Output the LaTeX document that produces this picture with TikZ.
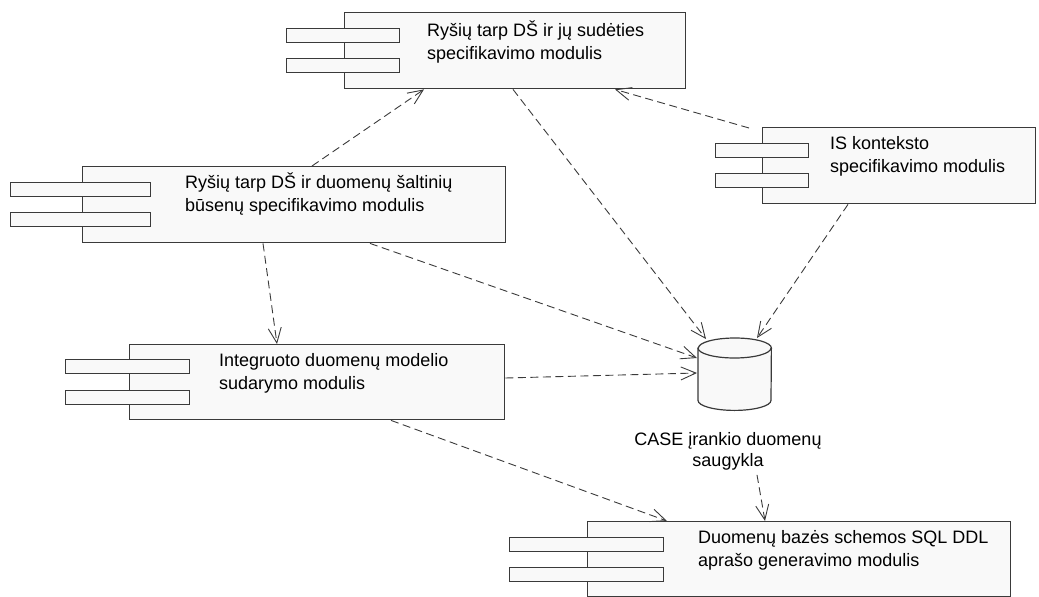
\documentclass[tikz,border=0pt]{standalone}
\usepackage{fontspec}
\setmainfont{Liberation Sans}
\usetikzlibrary{arrows.meta,calc}
\definecolor{edge}{HTML}{3A3A3A}
\definecolor{paper}{HTML}{F9F9F9}
\begin{document}
\begin{tikzpicture}[x=1pt,y=-1pt,
  body/.style={draw=edge, fill=paper, line width=1.4pt, rectangle, inner sep=0pt,
               anchor=north west, minimum height=76pt},
  tab/.style={draw=edge, fill=paper, line width=1.2pt, rectangle, inner sep=0pt,
              anchor=north west, minimum height=14pt},
  txt/.style={anchor=base west, inner sep=0pt, align=left, text=black,
              font=\fontsize{18}{23}\selectfont},
  dep/.style={draw=edge, line width=0.9pt, dash pattern=on 8pt off 4.5pt,
              -{Straight Barb[length=15pt, width=13pt, line width=0.9pt]}}]
\useasboundingbox (0,0) rectangle (1039,597);

% component: links between data structures and their composition
% (text nodes are placed by the baseline of their last line)
\node[body, minimum width=341pt] (c1) at (344,12) {};
\node[tab, minimum width=113pt] (c1a) at (286,28) {};
\node[tab, minimum width=113pt] (c1b) at (286,58) {};
\node[txt] (c1l) at (427,59) {Ryšių tarp DŠ ir jų sudėties\\specifikavimo modulis};

% component: links between data structures and data source states
\node[body, minimum width=423pt] (c2) at (82,166) {};
\node[tab, minimum width=140pt] (c2a) at (10,182) {};
\node[tab, minimum width=140pt] (c2b) at (10,212) {};
\node[txt] (c2l) at (185,211) {Ryšių tarp DŠ ir duomenų šaltinių\\būsenų specifikavimo modulis};

% component: IS context
\node[body, minimum width=273pt] (c3) at (762,127) {};
\node[tab, minimum width=93pt] (c3a) at (715,143) {};
\node[tab, minimum width=93pt] (c3b) at (715,173) {};
\node[txt] (c3l) at (830,172) {IS konteksto\\specifikavimo modulis};

% component: integrated data model
\node[body, minimum width=375pt, minimum height=75pt] (c4) at (129,344) {};
\node[tab, minimum width=124pt] (c4a) at (65,359) {};
\node[tab, minimum width=124pt] (c4b) at (65,390) {};
\node[txt] (c4l) at (219,389) {Integruoto duomenų modelio\\sudarymo modulis};

% component: SQL DDL generation
\node[body, minimum width=423pt, minimum height=75pt] (c5) at (587,521) {};
\node[tab, minimum width=154pt] (c5a) at (509,537) {};
\node[tab, minimum width=154pt] (c5b) at (509,567) {};
\node[txt] (c5l) at (698,566) {Duomenų bazės schemos SQL DDL\\aprašo generavimo modulis};

% CASE tool repository (cylinder)
\node[anchor=north west, inner sep=0pt, minimum width=73pt, minimum height=72pt] (db) at (698,338) {};
\filldraw[draw=edge, fill=paper, line width=1.2pt]
  ($(db.north west)+(0,10)$) -- ($(db.south west)+(0,-10)$)
  arc[start angle=180, end angle=360, x radius=36.5pt, y radius=10pt]
  -- ($(db.north east)+(0,10)$)
  arc[start angle=0, end angle=180, x radius=36.5pt, y radius=10pt] -- cycle;
\draw[edge, line width=1.2pt] ($(db.north west)+(0,10)$)
  arc[start angle=180, end angle=360, x radius=36.5pt, y radius=10pt];
\node[anchor=base, inner sep=0pt, align=center, font=\fontsize{18}{21}\selectfont] (dbl)
  at (728,466) {CASE įrankio duomenų\\saugykla};

% dependencies
\draw[dep] ($(c2.north west)+(230,0)$) -- ($(c1.south west)+(80,0)$);
\draw[dep] ($(c1.south west)+(169,0)$) -- ($(db.north west)+(8,1)$);
\draw[dep] ($(c3.north west)+(-13,1)$) -- ($(c1.south west)+(271,0)$);
\draw[dep] ($(c3.south west)+(86,0)$) -- ($(db.north west)+(59,0)$);
\draw[dep] ($(c2.south west)+(288,0)$) -- ($(db.north west)+(-1,20)$);
\draw[dep] ($(c2.south west)+(181,0)$) -- ($(c4.north west)+(148,0)$);
\draw[dep] ($(c4.north east)+(0,34)$) -- ($(db.north west)+(-1,35)$);
\draw[dep] ($(c4.south west)+(262,0)$) -- ($(c5.north west)+(80,0)$);
\draw[dep] ($(dbl.south)+(29,5)$) -- ($(c5.north west)+(178,0)$);
\end{tikzpicture}
\end{document}
